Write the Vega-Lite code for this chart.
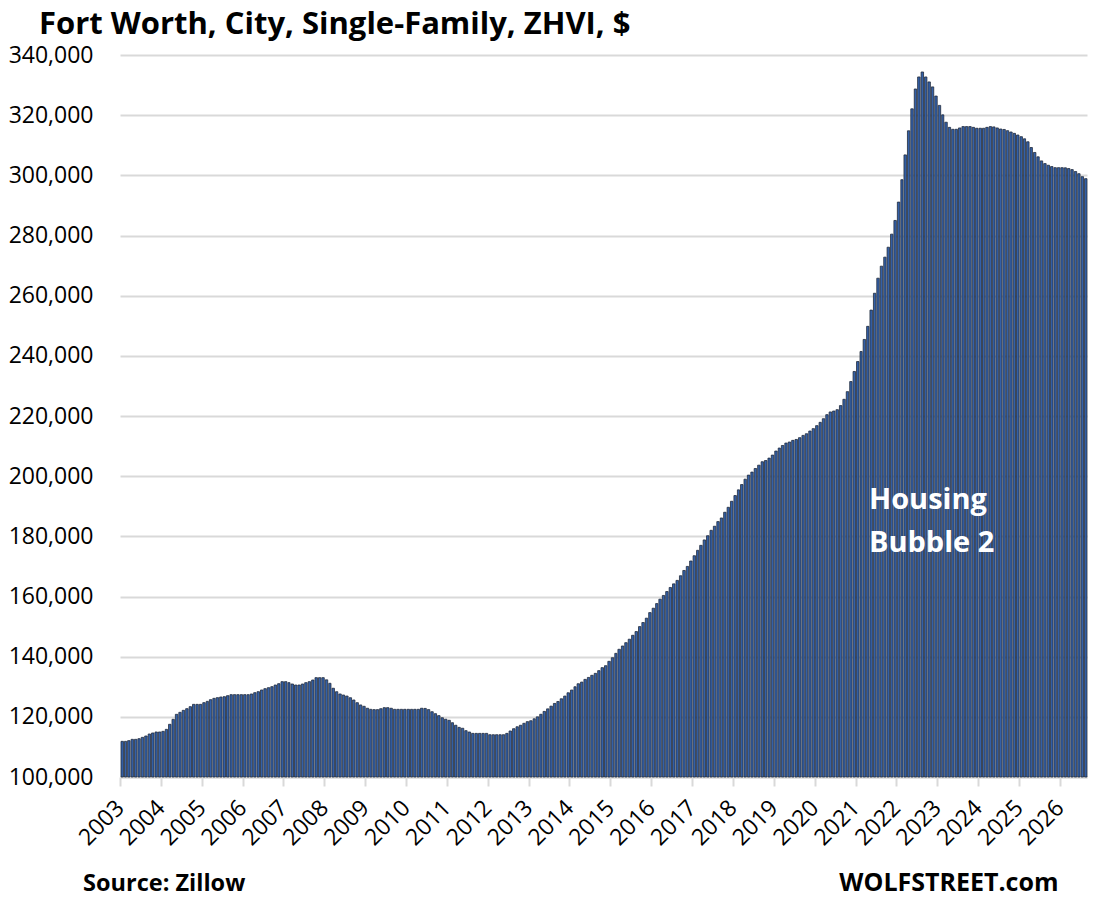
{
  "$schema": "https://vega.github.io/schema/vega-lite/v6.json",
  "width": 967,
  "height": 722,
  "autosize": {"type": "none"},
  "padding": {"left": 120, "top": 55, "right": 6, "bottom": 120},
  "background": "white",
  "config": {"view": {"stroke": null}, "font": "Open Sans"},
  "title": {
    "text": "Fort Worth, City, Single-Family, ZHVI, $",
    "anchor": "start",
    "frame": "group",
    "dx": -81,
    "dy": 29,
    "baseline": "alphabetic",
    "offset": 8,
    "font": "Open Sans",
    "fontSize": 31,
    "fontWeight": "bold",
    "color": "#000000"
  },
  "layer": [
    {
      "data": {
        "values": [
          {"d": "2003-01-01", "v": 111850}, {"d": "2003-02-01", "v": 111850}, {"d": "2003-03-01", "v": 112080}, {"d": "2003-04-01", "v": 112520},
          {"d": "2003-05-01", "v": 112520}, {"d": "2003-06-01", "v": 112740}, {"d": "2003-07-01", "v": 113180}, {"d": "2003-08-01", "v": 113630},
          {"d": "2003-09-01", "v": 114290}, {"d": "2003-10-01", "v": 114630}, {"d": "2003-11-01", "v": 114960}, {"d": "2003-12-01", "v": 114960},
          {"d": "2004-01-01", "v": 115180}, {"d": "2004-02-01", "v": 115840}, {"d": "2004-03-01", "v": 117510}, {"d": "2004-04-01", "v": 119170},
          {"d": "2004-05-01", "v": 120830}, {"d": "2004-06-01", "v": 121500}, {"d": "2004-07-01", "v": 122160}, {"d": "2004-08-01", "v": 122710},
          {"d": "2004-09-01", "v": 123380}, {"d": "2004-10-01", "v": 124150}, {"d": "2004-11-01", "v": 124150}, {"d": "2004-12-01", "v": 124150},
          {"d": "2005-01-01", "v": 124710}, {"d": "2005-02-01", "v": 125150}, {"d": "2005-03-01", "v": 125700}, {"d": "2005-04-01", "v": 126150},
          {"d": "2005-05-01", "v": 126370}, {"d": "2005-06-01", "v": 126590}, {"d": "2005-07-01", "v": 126700}, {"d": "2005-08-01", "v": 127030},
          {"d": "2005-09-01", "v": 127370}, {"d": "2005-10-01", "v": 127370}, {"d": "2005-11-01", "v": 127370}, {"d": "2005-12-01", "v": 127370},
          {"d": "2006-01-01", "v": 127370}, {"d": "2006-02-01", "v": 127370}, {"d": "2006-03-01", "v": 127590}, {"d": "2006-04-01", "v": 128030},
          {"d": "2006-05-01", "v": 128360}, {"d": "2006-06-01", "v": 128920}, {"d": "2006-07-01", "v": 129360}, {"d": "2006-08-01", "v": 129690},
          {"d": "2006-09-01", "v": 130030}, {"d": "2006-10-01", "v": 130580}, {"d": "2006-11-01", "v": 131020}, {"d": "2006-12-01", "v": 131690},
          {"d": "2007-01-01", "v": 131690}, {"d": "2007-02-01", "v": 131360}, {"d": "2007-03-01", "v": 130910}, {"d": "2007-04-01", "v": 130580},
          {"d": "2007-05-01", "v": 130580}, {"d": "2007-06-01", "v": 130910}, {"d": "2007-07-01", "v": 131360}, {"d": "2007-08-01", "v": 131690},
          {"d": "2007-09-01", "v": 132240}, {"d": "2007-10-01", "v": 133020}, {"d": "2007-11-01", "v": 133020}, {"d": "2007-12-01", "v": 133020},
          {"d": "2008-01-01", "v": 132300}, {"d": "2008-02-01", "v": 131150}, {"d": "2008-03-01", "v": 129500}, {"d": "2008-04-01", "v": 128350},
          {"d": "2008-05-01", "v": 127600}, {"d": "2008-06-01", "v": 127250}, {"d": "2008-07-01", "v": 126900}, {"d": "2008-08-01", "v": 126350},
          {"d": "2008-09-01", "v": 125600}, {"d": "2008-10-01", "v": 124700}, {"d": "2008-11-01", "v": 123950}, {"d": "2008-12-01", "v": 123500},
          {"d": "2009-01-01", "v": 122850}, {"d": "2009-02-01", "v": 122500}, {"d": "2009-03-01", "v": 122400}, {"d": "2009-04-01", "v": 122400},
          {"d": "2009-05-01", "v": 122700}, {"d": "2009-06-01", "v": 123050}, {"d": "2009-07-01", "v": 123050}, {"d": "2009-08-01", "v": 122850},
          {"d": "2009-09-01", "v": 122500}, {"d": "2009-10-01", "v": 122500}, {"d": "2009-11-01", "v": 122500}, {"d": "2009-12-01", "v": 122500},
          {"d": "2010-01-01", "v": 122500}, {"d": "2010-02-01", "v": 122500}, {"d": "2010-03-01", "v": 122500}, {"d": "2010-04-01", "v": 122500},
          {"d": "2010-05-01", "v": 122850}, {"d": "2010-06-01", "v": 122800}, {"d": "2010-07-01", "v": 122400}, {"d": "2010-08-01", "v": 121700},
          {"d": "2010-09-01", "v": 121050}, {"d": "2010-10-01", "v": 120400}, {"d": "2010-11-01", "v": 119700}, {"d": "2010-12-01", "v": 119200},
          {"d": "2011-01-01", "v": 118850}, {"d": "2011-02-01", "v": 118050}, {"d": "2011-03-01", "v": 117200}, {"d": "2011-04-01", "v": 116500},
          {"d": "2011-05-01", "v": 116200}, {"d": "2011-06-01", "v": 115400}, {"d": "2011-07-01", "v": 114950}, {"d": "2011-08-01", "v": 114500},
          {"d": "2011-09-01", "v": 114500}, {"d": "2011-10-01", "v": 114500}, {"d": "2011-11-01", "v": 114500}, {"d": "2011-12-01", "v": 114500},
          {"d": "2012-01-01", "v": 114050}, {"d": "2012-02-01", "v": 114050}, {"d": "2012-03-01", "v": 114050}, {"d": "2012-04-01", "v": 114050},
          {"d": "2012-05-01", "v": 114050}, {"d": "2012-06-01", "v": 114500}, {"d": "2012-07-01", "v": 115300}, {"d": "2012-08-01", "v": 116050},
          {"d": "2012-09-01", "v": 116700}, {"d": "2012-10-01", "v": 117200}, {"d": "2012-11-01", "v": 117850}, {"d": "2012-12-01", "v": 118400},
          {"d": "2013-01-01", "v": 118700}, {"d": "2013-02-01", "v": 119350}, {"d": "2013-03-01", "v": 120000}, {"d": "2013-04-01", "v": 120850},
          {"d": "2013-05-01", "v": 121800}, {"d": "2013-06-01", "v": 122650}, {"d": "2013-07-01", "v": 123550}, {"d": "2013-08-01", "v": 124450},
          {"d": "2013-09-01", "v": 125100}, {"d": "2013-10-01", "v": 126000}, {"d": "2013-11-01", "v": 126900}, {"d": "2013-12-01", "v": 128000},
          {"d": "2014-01-01", "v": 128900}, {"d": "2014-02-01", "v": 130000}, {"d": "2014-03-01", "v": 131000}, {"d": "2014-04-01", "v": 131550},
          {"d": "2014-05-01", "v": 132450}, {"d": "2014-06-01", "v": 133100}, {"d": "2014-07-01", "v": 133800}, {"d": "2014-08-01", "v": 134450},
          {"d": "2014-09-01", "v": 135350}, {"d": "2014-10-01", "v": 136350}, {"d": "2014-11-01", "v": 137000}, {"d": "2014-12-01", "v": 138450},
          {"d": "2015-01-01", "v": 139650}, {"d": "2015-02-01", "v": 141100}, {"d": "2015-03-01", "v": 142450}, {"d": "2015-04-01", "v": 143550},
          {"d": "2015-05-01", "v": 144650}, {"d": "2015-06-01", "v": 145800}, {"d": "2015-07-01", "v": 147100}, {"d": "2015-08-01", "v": 148350},
          {"d": "2015-09-01", "v": 150000}, {"d": "2015-10-01", "v": 151350}, {"d": "2015-11-01", "v": 152800}, {"d": "2015-12-01", "v": 154650},
          {"d": "2016-01-01", "v": 156100}, {"d": "2016-02-01", "v": 157650}, {"d": "2016-03-01", "v": 159100}, {"d": "2016-04-01", "v": 160350},
          {"d": "2016-05-01", "v": 161650}, {"d": "2016-06-01", "v": 163000}, {"d": "2016-07-01", "v": 164200}, {"d": "2016-08-01", "v": 165350},
          {"d": "2016-09-01", "v": 166900}, {"d": "2016-10-01", "v": 168650}, {"d": "2016-11-01", "v": 170000}, {"d": "2016-12-01", "v": 171800},
          {"d": "2017-01-01", "v": 173550}, {"d": "2017-02-01", "v": 175350}, {"d": "2017-03-01", "v": 177000}, {"d": "2017-04-01", "v": 178800},
          {"d": "2017-05-01", "v": 180200}, {"d": "2017-06-01", "v": 182000}, {"d": "2017-07-01", "v": 183350}, {"d": "2017-08-01", "v": 184900},
          {"d": "2017-09-01", "v": 186100}, {"d": "2017-10-01", "v": 188000}, {"d": "2017-11-01", "v": 189650}, {"d": "2017-12-01", "v": 191650},
          {"d": "2018-01-01", "v": 193550}, {"d": "2018-02-01", "v": 195450}, {"d": "2018-03-01", "v": 197200}, {"d": "2018-04-01", "v": 199000},
          {"d": "2018-05-01", "v": 200350}, {"d": "2018-06-01", "v": 201350}, {"d": "2018-07-01", "v": 202550}, {"d": "2018-08-01", "v": 203650},
          {"d": "2018-09-01", "v": 204800}, {"d": "2018-10-01", "v": 205200}, {"d": "2018-11-01", "v": 206000}, {"d": "2018-12-01", "v": 207000},
          {"d": "2019-01-01", "v": 208350}, {"d": "2019-02-01", "v": 209350}, {"d": "2019-03-01", "v": 210200}, {"d": "2019-04-01", "v": 211000},
          {"d": "2019-05-01", "v": 211350}, {"d": "2019-06-01", "v": 211900}, {"d": "2019-07-01", "v": 212200}, {"d": "2019-08-01", "v": 212800},
          {"d": "2019-09-01", "v": 213550}, {"d": "2019-10-01", "v": 214100}, {"d": "2019-11-01", "v": 215000}, {"d": "2019-12-01", "v": 215800},
          {"d": "2020-01-01", "v": 216800}, {"d": "2020-02-01", "v": 217900}, {"d": "2020-03-01", "v": 219100}, {"d": "2020-04-01", "v": 220450},
          {"d": "2020-05-01", "v": 221350}, {"d": "2020-06-01", "v": 221650}, {"d": "2020-07-01", "v": 222100}, {"d": "2020-08-01", "v": 223450},
          {"d": "2020-09-01", "v": 225550}, {"d": "2020-10-01", "v": 228100}, {"d": "2020-11-01", "v": 231450}, {"d": "2020-12-01", "v": 234800},
          {"d": "2021-01-01", "v": 238100}, {"d": "2021-02-01", "v": 241450}, {"d": "2021-03-01", "v": 245450}, {"d": "2021-04-01", "v": 249800},
          {"d": "2021-05-01", "v": 255200}, {"d": "2021-06-01", "v": 260800}, {"d": "2021-07-01", "v": 265800}, {"d": "2021-08-01", "v": 269800},
          {"d": "2021-09-01", "v": 272800}, {"d": "2021-10-01", "v": 276100}, {"d": "2021-11-01", "v": 280450}, {"d": "2021-12-01", "v": 285000},
          {"d": "2022-01-01", "v": 291100}, {"d": "2022-02-01", "v": 298550}, {"d": "2022-03-01", "v": 306800}, {"d": "2022-04-01", "v": 314800},
          {"d": "2022-05-01", "v": 322100}, {"d": "2022-06-01", "v": 328700}, {"d": "2022-07-01", "v": 332700}, {"d": "2022-08-01", "v": 334350},
          {"d": "2022-09-01", "v": 332700}, {"d": "2022-10-01", "v": 331050}, {"d": "2022-11-01", "v": 329400}, {"d": "2022-12-01", "v": 326350},
          {"d": "2023-01-01", "v": 323250}, {"d": "2023-02-01", "v": 320100}, {"d": "2023-03-01", "v": 317650}, {"d": "2023-04-01", "v": 315950},
          {"d": "2023-05-01", "v": 315300}, {"d": "2023-06-01", "v": 315300}, {"d": "2023-07-01", "v": 315750}, {"d": "2023-08-01", "v": 316200},
          {"d": "2023-09-01", "v": 316200}, {"d": "2023-10-01", "v": 316200}, {"d": "2023-11-01", "v": 315950}, {"d": "2023-12-01", "v": 315650},
          {"d": "2024-01-01", "v": 315650}, {"d": "2024-02-01", "v": 315650}, {"d": "2024-03-01", "v": 315950}, {"d": "2024-04-01", "v": 316200},
          {"d": "2024-05-01", "v": 316100}, {"d": "2024-06-01", "v": 315750}, {"d": "2024-07-01", "v": 315400}, {"d": "2024-08-01", "v": 315250},
          {"d": "2024-09-01", "v": 314850}, {"d": "2024-10-01", "v": 314400}, {"d": "2024-11-01", "v": 313950}, {"d": "2024-12-01", "v": 313400},
          {"d": "2025-01-01", "v": 312850}, {"d": "2025-02-01", "v": 312150}, {"d": "2025-03-01", "v": 311150}, {"d": "2025-04-01", "v": 309250},
          {"d": "2025-05-01", "v": 307600}, {"d": "2025-06-01", "v": 306150}, {"d": "2025-07-01", "v": 304800}, {"d": "2025-08-01", "v": 303900},
          {"d": "2025-09-01", "v": 303350}, {"d": "2025-10-01", "v": 302900}, {"d": "2025-11-01", "v": 302550}, {"d": "2025-12-01", "v": 302550},
          {"d": "2026-01-01", "v": 302550}, {"d": "2026-02-01", "v": 302500}, {"d": "2026-03-01", "v": 302250}, {"d": "2026-04-01", "v": 301900},
          {"d": "2026-05-01", "v": 301250}, {"d": "2026-06-01", "v": 300550}, {"d": "2026-07-01", "v": 299550}, {"d": "2026-08-01", "v": 298900}
        ]
      },
      "mark": {"type": "bar", "fill": "#3360a8", "stroke": "#222b3b", "strokeWidth": 0.8},
      "encoding": {
        "x": {
          "field": "d",
          "timeUnit": "utcyearmonth",
          "type": "temporal",
          "title": null,
          "scale": {
            "domain": [
              {"year": 2003, "month": 1, "date": 1, "utc": true},
              {"year": 2026, "month": 9, "date": 1, "utc": true}
            ],
            "nice": false
          },
          "axis": {
            "labelExpr": "utcFormat(datum.value, '%Y')",
            "tickCount": {"interval": "year", "step": 1},
            "labelAngle": -45,
            "labelAlign": "right",
            "labelBaseline": "middle",
            "labelFont": "Open Sans",
            "labelFontSize": 23,
            "labelColor": "#000000",
            "labelPadding": 18,
            "labelOverlap": false,
            "labelFlush": false,
            "tickColor": "#d9d9d9",
            "tickSize": 9,
            "tickWidth": 2,
            "domainColor": "#d9d9d9",
            "domainWidth": 2,
            "grid": false
          }
        },
        "y": {
          "field": "v",
          "type": "quantitative",
          "title": null,
          "scale": {"domain": [100000, 340000], "nice": false, "zero": false},
          "axis": {
            "values": [100000, 120000, 140000, 160000, 180000, 200000, 220000, 240000, 260000, 280000, 300000, 320000, 340000],
            "labelExpr": "format(datum.value, ',')",
            "labelFont": "Open Sans",
            "labelFontSize": 23,
            "labelColor": "#000000",
            "labelPadding": 27,
            "ticks": false,
            "domain": false,
            "gridColor": "#d9d9d9",
            "gridWidth": 2
          }
        },
        "y2": {"datum": 100000}
      }
    },
    {
      "data": {"values": [{"label": "Housing Bubble 2"}]},
      "mark": {
        "type": "text",
        "text": ["Housing", "Bubble 2"],
        "align": "left",
        "baseline": "alphabetic",
        "font": "Open Sans",
        "fontSize": 29,
        "fontWeight": "bold",
        "color": "#ffffff",
        "lineHeight": 43
      },
      "encoding": {
        "x": {"datum": {"year": 2021, "month": 5, "date": 1, "utc": true}, "type": "temporal"},
        "y": {"datum": 189000, "type": "quantitative"}
      }
    },
    {
      "data": {"values": [{"label": "Source: Zillow"}]},
      "mark": {
        "type": "text",
        "text": "Source: Zillow",
        "align": "left",
        "baseline": "alphabetic",
        "dy": 114,
        "font": "Open Sans",
        "fontSize": 23.5,
        "fontWeight": "bold",
        "color": "#000000"
      },
      "encoding": {
        "x": {"datum": {"year": 2002, "month": 2, "date": 5, "utc": true}, "type": "temporal"},
        "y": {"datum": 100000, "type": "quantitative"}
      }
    },
    {
      "data": {"values": [{"label": "WOLFSTREET.com"}]},
      "mark": {
        "type": "text",
        "text": "WOLFSTREET.com",
        "align": "right",
        "baseline": "alphabetic",
        "dy": 114,
        "font": "Open Sans",
        "fontSize": 25,
        "fontWeight": "bold",
        "color": "#000000"
      },
      "encoding": {
        "x": {"datum": {"year": 2025, "month": 12, "date": 20, "utc": true}, "type": "temporal"},
        "y": {"datum": 100000, "type": "quantitative"}
      }
    }
  ]
}
